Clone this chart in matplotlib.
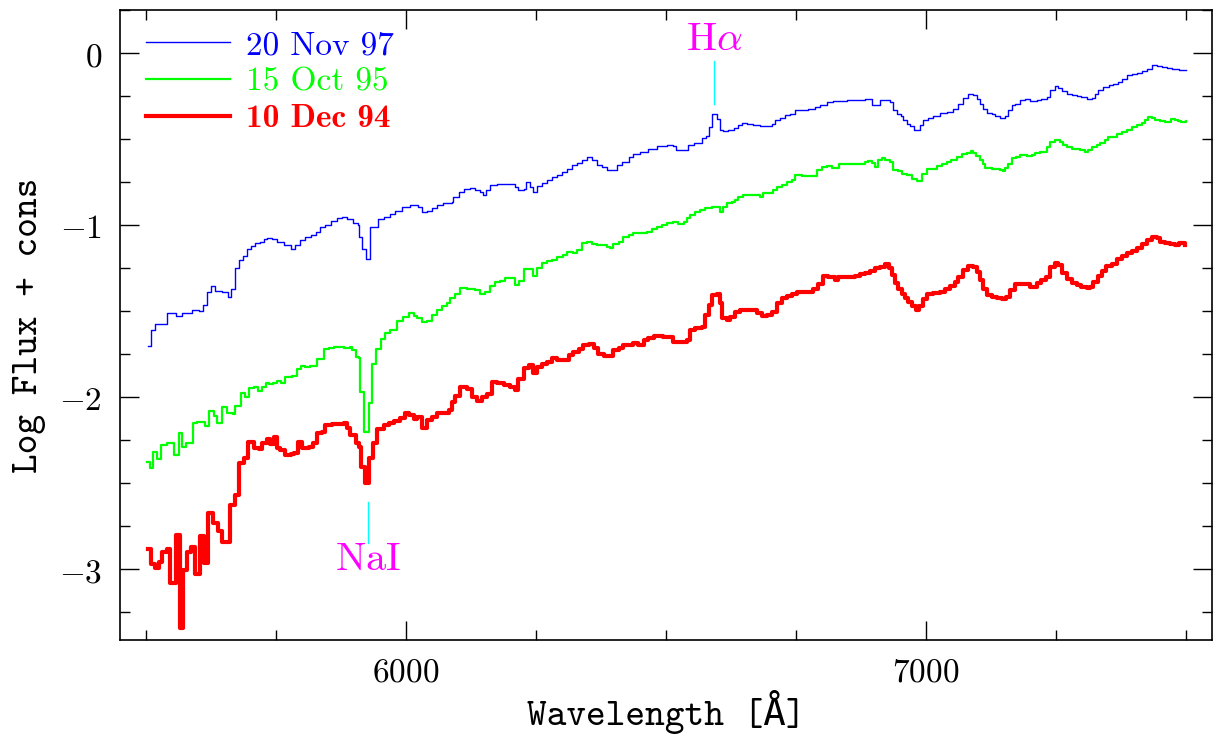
import matplotlib
matplotlib.use("Agg")
import matplotlib.pyplot as plt
from matplotlib.ticker import MultipleLocator, FuncFormatter
import numpy as np

# ---------------- data ----------------
wl_nov97 = [5503, 5510, 5517, 5541, 5557, 5570, 5589, 5601, 5610, 5618, 5625, 5633, 5646, 5657,
            5664, 5672, 5678, 5687, 5694, 5702, 5710, 5719, 5726, 5733, 5742, 5752, 5765, 5778,
            5787, 5797, 5806, 5817, 5826, 5835, 5845, 5856, 5867, 5877, 5887, 5899, 5907, 5909,
            5915, 5923, 5931, 5940, 5947, 5957, 5970, 5979, 5992, 6008, 6024, 6031, 6040, 6050,
            6060, 6072, 6088, 6091, 6101, 6111, 6124, 6133, 6143, 6149, 6154, 6161, 6175, 6188,
            6200, 6210, 6216, 6226, 6231, 6238, 6245, 6252, 6261, 6271, 6281, 6290, 6300, 6309,
            6319, 6329, 6338, 6348, 6357, 6367, 6377, 6386, 6399, 6406, 6415, 6428, 6437, 6450,
            6466, 6482, 6502, 6514, 6520, 6534, 6543, 6553, 6569, 6577, 6582, 6588, 6598, 6603,
            6610, 6620, 6630, 6639, 6646, 6655, 6668, 6681, 6694, 6703, 6710, 6719, 6729, 6739,
            6748, 6761, 6774, 6787, 6796, 6809, 6822, 6835, 6848, 6860, 6873, 6883, 6896, 6905,
            6912, 6921, 6931, 6937, 6944, 6951, 6956, 6963, 6970, 6976, 6982, 6989, 6995, 7004,
            7014, 7027, 7040, 7052, 7062, 7072, 7081, 7091, 7098, 7104, 7110, 7117, 7126, 7133,
            7142, 7152, 7158, 7165, 7171, 7181, 7190, 7200, 7213, 7222, 7232, 7238, 7248, 7254,
            7261, 7271, 7280, 7290, 7299, 7309, 7319, 7325, 7331, 7341, 7351, 7360, 7370, 7376,
            7386, 7396, 7406, 7415, 7425, 7434, 7444, 7454, 7463, 7473, 7486, 7500]
flux_nov97 = [-1.70, -1.61, -1.575, -1.51, -1.53, -1.51, -1.49, -1.50, -1.465, -1.39, -1.354, -1.38,
              -1.39, -1.416, -1.37, -1.25, -1.20, -1.18, -1.141, -1.12, -1.106, -1.097, -1.083, -1.074,
              -1.08, -1.097, -1.116, -1.141, -1.116, -1.087, -1.068, -1.058, -1.039, -1.013, -1.00,
              -0.975, -0.961, -0.955, -0.967, -0.987, -1.00, -1.068, -1.141, -1.199, -1.01, -1.01,
              -0.967, -0.952, -0.936, -0.919, -0.894, -0.884, -0.895, -0.923, -0.915, -0.90, -0.884,
              -0.874, -0.865, -0.836, -0.807, -0.787, -0.783, -0.797, -0.81, -0.826, -0.797, -0.768,
              -0.758, -0.758, -0.762, -0.777, -0.793, -0.787, -0.752, -0.777, -0.807, -0.772, -0.754,
              -0.735, -0.72, -0.71, -0.69, -0.671, -0.652, -0.638, -0.619, -0.604, -0.623, -0.652,
              -0.662, -0.681, -0.681, -0.652, -0.633, -0.604, -0.584, -0.575, -0.555, -0.540, -0.532,
              -0.540, -0.561, -0.561, -0.532, -0.52, -0.493, -0.483, -0.429, -0.352, -0.381, -0.445,
              -0.453, -0.445, -0.433, -0.42, -0.406, -0.41, -0.416, -0.425, -0.425, -0.41, -0.39,
              -0.375, -0.361, -0.352, -0.333, -0.329, -0.323, -0.313, -0.30, -0.284, -0.28, -0.279,
              -0.275, -0.275, -0.270, -0.268, -0.304, -0.304, -0.27, -0.27, -0.284, -0.333, -0.352,
              -0.367, -0.39, -0.41, -0.425, -0.449, -0.445, -0.42, -0.39, -0.375, -0.367, -0.35,
              -0.342, -0.323, -0.294, -0.259, -0.236, -0.245, -0.265, -0.294, -0.323, -0.348, -0.357,
              -0.367, -0.375, -0.367, -0.333, -0.304, -0.294, -0.275, -0.269, -0.279, -0.27, -0.265,
              -0.255, -0.212, -0.193, -0.201, -0.222, -0.236, -0.245, -0.248, -0.255, -0.265, -0.26,
              -0.236, -0.216, -0.197, -0.187, -0.182, -0.168, -0.149, -0.129, -0.124, -0.116, -0.104,
              -0.091, -0.071, -0.077, -0.081, -0.087, -0.093, -0.096, -0.096]

wl_oct95 = [5501, 5507, 5514, 5521, 5529, 5541, 5553, 5563, 5569, 5576, 5591, 5598, 5614, 5622,
            5630, 5637, 5646, 5655, 5667, 5672, 5683, 5691, 5699, 5707, 5715, 5723, 5730, 5736,
            5744, 5752, 5760, 5768, 5781, 5790, 5798, 5806, 5816, 5828, 5843, 5851, 5861, 5874,
            5881, 5892, 5896, 5903, 5909, 5912, 5920, 5928, 5935, 5943, 5951, 5960, 5970, 5983,
            5995, 6005, 6015, 6021, 6031, 6040, 6050, 6060, 6069, 6079, 6085, 6095, 6104, 6117,
            6133, 6143, 6152, 6162, 6172, 6181, 6191, 6200, 6210, 6218, 6226, 6236, 6245, 6252,
            6261, 6271, 6281, 6290, 6302, 6309, 6322, 6329, 6338, 6348, 6357, 6367, 6377, 6386,
            6393, 6399, 6409, 6418, 6428, 6437, 6450, 6463, 6473, 6482, 6492, 6502, 6514, 6524,
            6534, 6541, 6546, 6556, 6566, 6575, 6588, 6594, 6603, 6609, 6617, 6627, 6633, 6639,
            6649, 6662, 6675, 6681, 6687, 6697, 6705, 6713, 6723, 6732, 6742, 6748, 6761, 6774,
            6787, 6791, 6800, 6809, 6819, 6828, 6833, 6844, 6857, 6870, 6883, 6889, 6896, 6902,
            6908, 6915, 6921, 6931, 6937, 6947, 6953, 6963, 6973, 6982, 6989, 6992, 7001, 7011,
            7021, 7030, 7040, 7049, 7059, 7069, 7078, 7086, 7091, 7097, 7104, 7110, 7113, 7126,
            7136, 7142, 7149, 7152, 7158, 7165, 7174, 7181, 7194, 7203, 7210, 7219, 7229, 7233,
            7238, 7248, 7258, 7264, 7271, 7280, 7290, 7296, 7306, 7312, 7319, 7328, 7334, 7344,
            7350, 7360, 7367, 7376, 7386, 7396, 7406, 7415, 7421, 7427, 7434, 7440, 7450, 7459,
            7469, 7472, 7479, 7485, 7491, 7500]
flux_oct95 = [-2.374, -2.412, -2.316, -2.36, -2.277, -2.263, -2.335, -2.205, -2.287, -2.263, -2.151,
              -2.142, -2.167, -2.08, -2.107, -2.147, -2.055, -2.093, -2.097, -2.05, -1.973, -1.996,
              -1.948, -1.942, -1.962, -1.942, -1.919, -1.925, -1.915, -1.905, -1.915, -1.88, -1.876,
              -1.838, -1.818, -1.822, -1.818, -1.78, -1.721, -1.716, -1.71, -1.71, -1.716, -1.706,
              -1.725, -1.768, -1.774, -1.967, -2.20, -2.035, -1.807, -1.72, -1.663, -1.628, -1.609,
              -1.557, -1.532, -1.513, -1.525, -1.542, -1.561, -1.555, -1.522, -1.493, -1.47, -1.451,
              -1.426, -1.397, -1.364, -1.371, -1.377, -1.40, -1.387, -1.354, -1.329, -1.323, -1.306,
              -1.306, -1.348, -1.325, -1.255, -1.257, -1.296, -1.246, -1.222, -1.209, -1.203, -1.184,
              -1.174, -1.155, -1.164, -1.145, -1.106, -1.097, -1.112, -1.116, -1.116, -1.126, -1.135,
              -1.112, -1.097, -1.071, -1.058, -1.048, -1.048, -1.039, -1.025, -1.013, -1.00, -0.987,
              -0.981, -0.994, -0.981, -0.961, -0.942, -0.923, -0.909, -0.903, -0.894, -0.897, -0.923,
              -0.897, -0.874, -0.865, -0.851, -0.836, -0.822, -0.822, -0.826, -0.836, -0.816, -0.816,
              -0.797, -0.781, -0.764, -0.749, -0.739, -0.71, -0.716, -0.716, -0.716, -0.681, -0.662,
              -0.658, -0.665, -0.665, -0.646, -0.646, -0.646, -0.642, -0.633, -0.627, -0.638, -0.662,
              -0.619, -0.607, -0.623, -0.633, -0.681, -0.685, -0.70, -0.71, -0.729, -0.743, -0.743,
              -0.70, -0.671, -0.671, -0.658, -0.646, -0.633, -0.619, -0.604, -0.588, -0.58, -0.571,
              -0.58, -0.60, -0.619, -0.642, -0.665, -0.671, -0.671, -0.677, -0.685, -0.668, -0.642,
              -0.609, -0.604, -0.594, -0.60, -0.594, -0.58, -0.575, -0.575, -0.546, -0.517, -0.507,
              -0.517, -0.532, -0.546, -0.555, -0.555, -0.561, -0.575, -0.561, -0.546, -0.532, -0.522,
              -0.503, -0.488, -0.488, -0.468, -0.459, -0.449, -0.429, -0.42, -0.406, -0.39, -0.371,
              -0.375, -0.387, -0.395, -0.40, -0.40, -0.385, -0.39, -0.395, -0.40, -0.395]

wl_dec94 = [5503, 5510, 5518, 5525, 5531, 5541, 5547, 5557, 5565, 5571, 5579, 5587, 5595, 5603,
            5611, 5619, 5629, 5638, 5646, 5662, 5671, 5678, 5689, 5697, 5707, 5717, 5723, 5733,
            5739, 5746, 5752, 5758, 5768, 5778, 5784, 5792, 5800, 5813, 5821, 5829, 5839, 5845,
            5858, 5870, 5880, 5887, 5893, 5903, 5909, 5913, 5922, 5928, 5937, 5944, 5957, 5967,
            5976, 5989, 5999, 6005, 6015, 6021, 6031, 6040, 6050, 6060, 6072, 6082, 6088, 6095,
            6104, 6117, 6127, 6136, 6146, 6156, 6165, 6175, 6188, 6200, 6210, 6216, 6226, 6236,
            6245, 6252, 6261, 6271, 6281, 6290, 6303, 6313, 6322, 6332, 6340, 6351, 6361, 6370,
            6380, 6389, 6399, 6409, 6418, 6428, 6437, 6447, 6457, 6466, 6476, 6486, 6495, 6505,
            6514, 6527, 6540, 6546, 6556, 6569, 6575, 6582, 6588, 6598, 6603, 6607, 6617, 6623,
            6633, 6643, 6655, 6665, 6675, 6684, 6694, 6703, 6713, 6723, 6732, 6742, 6752, 6764,
            6774, 6783, 6793, 6801, 6812, 6822, 6825, 6831, 6844, 6857, 6864, 6873, 6883, 6893,
            6902, 6912, 6921, 6928, 6934, 6940, 6947, 6953, 6960, 6966, 6973, 6980, 6987, 6995,
            7001, 7014, 7027, 7037, 7046, 7056, 7062, 7072, 7081, 7091, 7099, 7104, 7109, 7117,
            7126, 7136, 7146, 7154, 7161, 7171, 7181, 7190, 7200, 7206, 7213, 7222, 7231, 7238,
            7248, 7254, 7261, 7271, 7280, 7290, 7299, 7309, 7315, 7322, 7331, 7338, 7347, 7357,
            7367, 7376, 7386, 7396, 7406, 7415, 7425, 7434, 7444, 7450, 7459, 7469, 7479, 7487,
            7498]
flux_dec94 = [-2.882, -2.967, -2.993, -2.954, -2.896, -2.882, -3.076, -2.799, -3.341, -3.002, -2.896,
              -2.867, -3.026, -2.803, -2.964, -2.673, -2.731, -2.776, -2.838, -2.625, -2.567, -2.383,
              -2.354, -2.258, -2.296, -2.302, -2.267, -2.244, -2.27, -2.228, -2.296, -2.306, -2.335,
              -2.329, -2.321, -2.258, -2.296, -2.287, -2.263, -2.209, -2.20, -2.161, -2.157, -2.157,
              -2.148, -2.18, -2.219, -2.263, -2.287, -2.406, -2.495, -2.354, -2.267, -2.186, -2.161,
              -2.151, -2.136, -2.122, -2.093, -2.10, -2.128, -2.112, -2.18, -2.132, -2.112, -2.093,
              -2.093, -2.074, -2.026, -1.992, -1.942, -1.954, -1.996, -2.02, -1.996, -1.983, -1.909,
              -1.919, -1.929, -1.938, -1.958, -1.896, -1.832, -1.813, -1.861, -1.822, -1.809, -1.793,
              -1.774, -1.784, -1.784, -1.755, -1.735, -1.721, -1.697, -1.693, -1.716, -1.749, -1.760,
              -1.760, -1.725, -1.716, -1.697, -1.697, -1.687, -1.697, -1.668, -1.658, -1.644, -1.644,
              -1.648, -1.648, -1.677, -1.677, -1.668, -1.609, -1.60, -1.59, -1.523, -1.465, -1.407,
              -1.401, -1.455, -1.542, -1.551, -1.532, -1.503, -1.493, -1.49, -1.493, -1.513, -1.528,
              -1.522, -1.503, -1.455, -1.426, -1.412, -1.397, -1.391, -1.391, -1.387, -1.368, -1.339,
              -1.296, -1.30, -1.30, -1.319, -1.30, -1.30, -1.30, -1.296, -1.284, -1.277, -1.265,
              -1.251, -1.242, -1.226, -1.251, -1.29, -1.335, -1.373, -1.397, -1.426, -1.445, -1.47,
              -1.49, -1.47, -1.431, -1.397, -1.393, -1.387, -1.373, -1.354, -1.329, -1.30, -1.261,
              -1.236, -1.242, -1.271, -1.319, -1.368, -1.407, -1.42, -1.426, -1.43, -1.416, -1.377,
              -1.344, -1.342, -1.342, -1.358, -1.358, -1.338, -1.319, -1.303, -1.242, -1.219, -1.232,
              -1.277, -1.315, -1.338, -1.348, -1.358, -1.364, -1.358, -1.329, -1.296, -1.265, -1.238,
              -1.226, -1.199, -1.18, -1.161, -1.149, -1.135, -1.11, -1.087, -1.068, -1.077, -1.097,
              -1.103, -1.11, -1.116, -1.106, -1.116]

series_labels = ["20 Nov 97", "15 Oct 95", "10 Dec 94"]
series_colors = ["#0000ff", "#00ff00", "#ff0000"]

# spectral line marks: (label, wavelength, tick from, tick to, label y)
line_names = [r"$\mathrm{H}\alpha$", r"$\mathrm{NaI}$"]
line_wl = [6593, 5926]
line_tick_y0 = [-0.048, -2.607]
line_tick_y1 = [-0.298, -2.845]
line_label_y = [0.016, -3.003]

xticks_major = [6000, 7000]
yticks_major = [0, -1, -2, -3]

# ---------------- figure ----------------
plt.rcParams["mathtext.fontset"] = "cm"
plt.rcParams["axes.unicode_minus"] = True

fig = plt.figure(figsize=(12.14, 7.38), dpi=100)
ax = fig.add_axes([120 / 1214, 98 / 738, 1092 / 1214, 630 / 738])

ax.plot(wl_nov97, flux_nov97, drawstyle="steps-post", color=series_colors[0], lw=1.0,
        label=series_labels[0])
ax.plot(wl_oct95, flux_oct95, drawstyle="steps-post", color=series_colors[1], lw=1.6,
        label=series_labels[1])
ax.plot(wl_dec94, flux_dec94, drawstyle="steps-post", color=series_colors[2], lw=3.0,
        label=series_labels[2])

for name, wl, y0, y1, ly in zip(line_names, line_wl, line_tick_y0, line_tick_y1, line_label_y):
    ax.plot([wl, wl], [y0, y1], color="#00ffff", lw=1.0)
    ax.text(wl, ly, name, color="#ff00ff", fontsize=29, ha="center", va="baseline")

ax.set_xlim(5450, 7550)
ax.set_ylim(-3.41, 0.25)

ax.set_xticks(xticks_major)
ax.xaxis.set_minor_locator(MultipleLocator(250))
ax.set_yticks(yticks_major)
ax.yaxis.set_minor_locator(MultipleLocator(0.25))
fmt = FuncFormatter(lambda v, p: f"${v:g}$")
ax.xaxis.set_major_formatter(fmt)
ax.yaxis.set_major_formatter(fmt)

ax.tick_params(which="both", direction="in", top=True, right=True, width=1.0, colors="black")
ax.tick_params(which="major", length=14, labelsize=24)
ax.tick_params(which="minor", length=7)
ax.tick_params(axis="x", which="major", pad=11)
ax.tick_params(axis="y", which="major", pad=13)
for s in ax.spines.values():
    s.set_linewidth(1.2)

ax.set_xlabel("Wavelength [Å]", fontsize=27, family=["cmtt10", "DejaVu Sans Mono"], labelpad=1)
ax.set_ylabel("Log Flux + cons", fontsize=27, family=["cmtt10", "DejaVu Sans Mono"], labelpad=9)

leg = ax.legend(loc="upper left", bbox_to_anchor=(0.024, 0.967), frameon=False,
                borderpad=0, borderaxespad=0, handlelength=2.5, handletextpad=0.5,
                labelspacing=0.22, prop={"family": "cmr10", "size": 24})
for txt, col in zip(leg.get_texts(), series_colors):
    txt.set_color(col)
leg.get_texts()[2].set_family("cmb10")

fig.savefig("out.png", dpi=100)
